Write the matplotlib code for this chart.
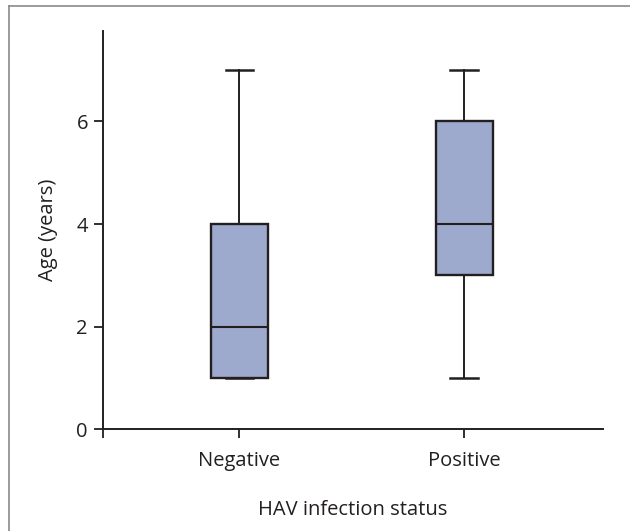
import matplotlib
matplotlib.use("Agg")
import matplotlib.pyplot as plt
from matplotlib.lines import Line2D

plt.rcParams['font.family'] = ['Open Sans', 'DejaVu Sans']

categories = ["Negative", "Positive"]
whisker_low = [1, 1]
q1 = [1, 3]
median = [2, 4]
q3 = [4, 6]
whisker_high = [7, 7]
y_ticks = [0, 2, 4, 6]

text_color = "#231f20"
box_color = "#9eaacd"

fig = plt.figure(figsize=(6.3, 5.31), dpi=100)
ax = fig.add_axes([102.5/630, (531-429.4)/531, (603-102.5)/630, (429.4-30.5)/531])

stats = []
for i, c in enumerate(categories):
    stats.append(dict(label=c, whislo=whisker_low[i], q1=q1[i], med=median[i],
                      q3=q3[i], whishi=whisker_high[i], fliers=[]))

ax.bxp(stats, positions=[1, 2], widths=0.253, patch_artist=True, showfliers=False,
       boxprops=dict(facecolor=box_color, edgecolor=text_color, linewidth=1.7),
       medianprops=dict(color=text_color, linewidth=1.5),
       whiskerprops=dict(color=text_color, linewidth=1.4),
       capprops=dict(color=text_color, linewidth=1.8),
       capwidths=0.122)

xmin, xmax = 0.391, 2.618
ax.set_xlim(xmin, xmax)
ax.set_ylim(0, 7.77)
ax.set_yticks(y_ticks)
ax.set_yticklabels([str(v) for v in y_ticks])
ax.set_xticks([xmin, 1, 2])
ax.set_xticklabels(["", categories[0], categories[1]])

for s in ["top", "right"]:
    ax.spines[s].set_visible(False)
for s in ["left", "bottom"]:
    ax.spines[s].set_color(text_color)
    ax.spines[s].set_linewidth(1.4)
ax.tick_params(axis="both", length=6.5, width=1.3, color=text_color,
               labelcolor=text_color, labelsize=14.5)
ax.tick_params(axis="x", pad=9)
ax.tick_params(axis="y", pad=4)

ax.set_xlabel("HAV infection status", fontsize=14.5, color=text_color, labelpad=21)
ax.set_ylabel("Age (years)", fontsize=14.5, color=text_color, labelpad=13)

# figure frame (top and left)
fig.add_artist(Line2D([9/630, 9/630], [0, 1 - 6/531], transform=fig.transFigure,
                      color="#8a8a8a", linewidth=1.2))
fig.add_artist(Line2D([9/630, 1], [1 - 6/531, 1 - 6/531], transform=fig.transFigure,
                      color="#8a8a8a", linewidth=1.2))

fig.savefig("out.png", dpi=100)
